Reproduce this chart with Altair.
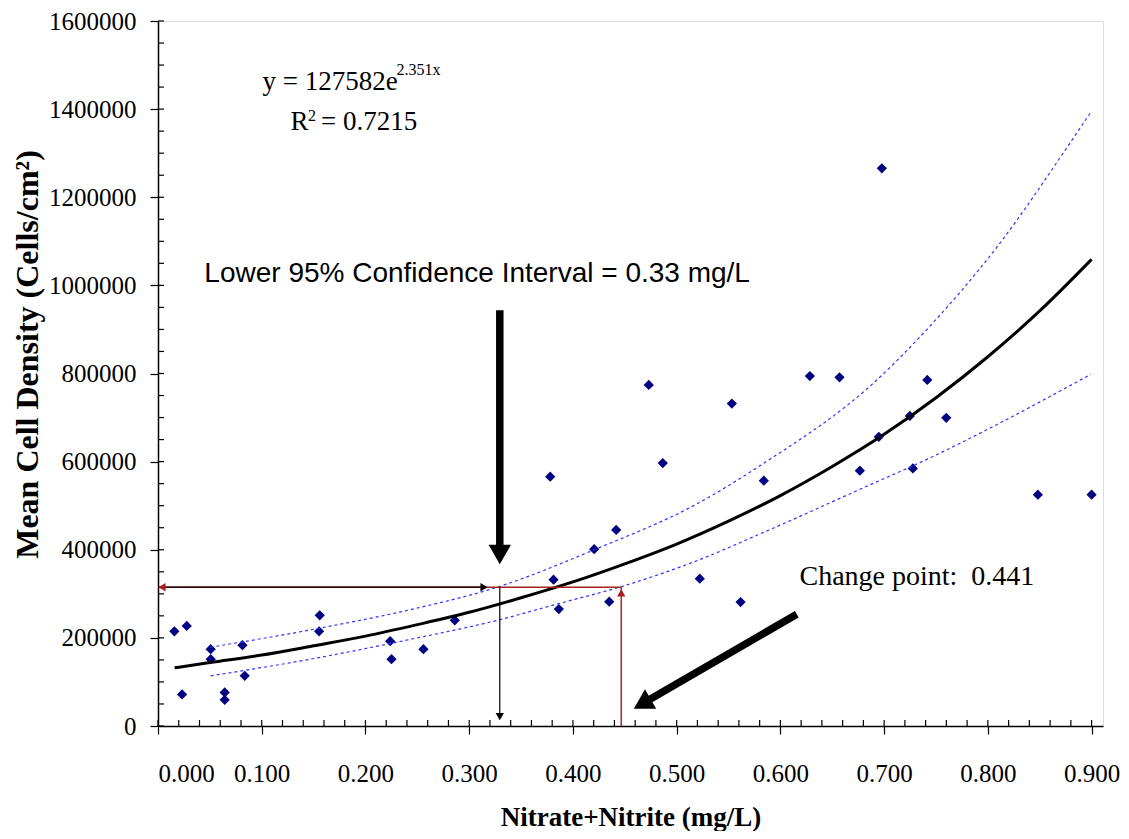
import altair as alt
import pandas as pd

# ---------------- data ----------------
nitrate = [0.0158, 0.0277, 0.0232, 0.0508, 0.0508, 0.0643, 0.0643, 0.0814, 0.0836,
           0.1559, 0.1553, 0.2238, 0.2251, 0.2559, 0.2861, 0.3781, 0.4731, 0.4866,
           0.4417, 0.4205, 0.3813, 0.3864, 0.4350, 0.6978, 0.6284, 0.6570, 0.7416,
           0.5532, 0.7248, 0.7599, 0.6949, 0.5840, 0.6766, 0.7277, 0.8482, 0.9000,
           0.5223, 0.5616]
density = [215000, 227000, 71700, 174300, 151600, 76300, 59500, 183300, 113800,
           251200, 215000, 192400, 151600, 174300, 239900, 565800, 774000, 596800,
           445100, 401300, 332000, 265500, 282200, 1265700, 794300, 791400, 785300,
           731700, 703800, 699300, 656300, 556700, 579400, 584600, 525000, 525000,
           334300, 281300]

fit_x = [0.016, 0.05, 0.10, 0.15, 0.20, 0.25, 0.30, 0.35, 0.40, 0.45, 0.50,
         0.55, 0.60, 0.65, 0.70, 0.75, 0.80, 0.85, 0.90]
fit_y = [132000, 144000, 161000, 182000, 204000, 230000, 258000, 291000, 327000,
         368000, 413000, 465000, 523000, 589000, 662000, 745000, 838000, 942000, 1059000]

upper_x = [0.0505, 0.1553, 0.2469, 0.3273, 0.4205, 0.5194, 0.5844, 0.6905,
           0.7451, 0.8094, 0.8800, 0.9000]
upper_y = [178800, 221800, 266000, 315200, 400000, 504000, 597000, 780000,
           910000, 1089000, 1326000, 1396000]
lower_x = [0.0508, 0.1505, 0.2469, 0.3273, 0.3851, 0.4461, 0.5201, 0.5844, 0.6808,
           0.7451, 0.8094, 0.8993]
lower_y = [113800, 153200, 198500, 239900, 277000, 316000, 375700, 440000, 541500,
           609400, 685000, 798200]

x_ticks = [0.0, 0.1, 0.2, 0.3, 0.4, 0.5, 0.6, 0.7, 0.8, 0.9]
y_ticks = [0, 200000, 400000, 600000, 800000, 1000000, 1200000, 1400000, 1600000]
x_minor = [round(i * 0.02, 2) for i in range(46)]
y_minor = [i * 50000 for i in range(33)]

# annotation anchors (data units)
ci_x = 0.3295          # lower 95% confidence interval
cp_x = 0.4466          # change point line
level_y = 315000       # horizontal reference level

SERIF = "Liberation Serif"
SANS = "Liberation Sans"

W, H = 945, 705

xs = alt.Scale(domain=[0, 0.911], nice=False, zero=False)
ys = alt.Scale(domain=[0, 1600000], nice=False, zero=False)


def X(f):
    return alt.X(f, type="quantitative", scale=xs, axis=None)


def Y(f):
    return alt.Y(f, type="quantitative", scale=ys, axis=None)


pts_df = pd.DataFrame({"x": nitrate, "y": density})

points = alt.Chart(pts_df).mark_point(
    shape="diamond", filled=True, size=105, color="#000080", opacity=1
).encode(
    x=alt.X("x:Q", scale=xs, axis=alt.Axis(
        orient="bottom", values=x_ticks, format=".3f", tickSize=8, tickColor="black",
        tickWidth=1.2, domainColor="black", domainWidth=1.5, grid=False,
        labelFont=SERIF, labelFontSize=25, labelColor="black", labelPadding=27,
        title="Nitrate+Nitrite (mg/L)", titleFont=SERIF, titleFontSize=27,
        titleFontWeight="bold", titleColor="black", titlePadding=18)),
    y=alt.Y("y:Q", scale=ys, axis=alt.Axis(
        orient="left", values=y_ticks, format="d", tickSize=8, tickColor="black",
        tickWidth=1.2, domainColor="black", domainWidth=1.5, grid=False,
        labelFont=SERIF, labelFontSize=25, labelColor="black", labelPadding=14,
        title="Mean Cell Density (Cells/cm²)", titleFont=SERIF, titleFontSize=32,
        titleFontWeight="bold", titleColor="black", titlePadding=4, titleY=333)),
)

xminor = alt.Chart(pd.DataFrame({"v": x_minor})).mark_tick(
    orient="vertical", size=6, thickness=1.2, color="black", opacity=1
).encode(x=X("v"), y=alt.value(H - 3))

yminor = alt.Chart(pd.DataFrame({"v": y_minor})).mark_tick(
    orient="horizontal", size=6, thickness=1.2, color="black", opacity=1
).encode(y=Y("v"), x=alt.value(3))

fit = alt.Chart(pd.DataFrame({"x": fit_x, "y": fit_y})).mark_line(
    color="black", strokeWidth=3, interpolate="monotone"
).encode(x=X("x"), y=Y("y"), order="x:Q")

band_df = pd.concat([
    pd.DataFrame({"x": upper_x, "y": upper_y, "b": "upper"}),
    pd.DataFrame({"x": lower_x, "y": lower_y, "b": "lower"}),
])
bands = alt.Chart(band_df).mark_line(
    color="#3333FF", strokeWidth=1.2, strokeDash=[3, 3], interpolate="monotone"
).encode(x=X("x"), y=Y("y"), detail="b:N", order="x:Q")

# reference lines (arrows)
seg_df = pd.DataFrame({
    "x":  [cp_x, 0.0,  0.0,    ci_x],
    "x2": [cp_x, cp_x, 0.3143, ci_x],
    "y":  [0, level_y, level_y, level_y],
    "y2": [level_y, level_y, level_y, 21500],
    "c":  ["#B03030", "#A52020", "black", "black"],
    "w":  [1.6, 1.6, 1.2, 1.2],
})
segs = alt.Chart(seg_df).mark_rule().encode(
    x=X("x"), x2="x2:Q", y=Y("y"), y2="y2:Q",
    color=alt.Color("c:N", scale=None), strokeWidth=alt.StrokeWidth("w:Q", scale=None))

heads_df = pd.DataFrame({
    "x": [0.0038, cp_x, 0.3143, ci_x],
    "y": [level_y, 302000, level_y, 21500],
    "s": ["triangle-left", "triangle-up", "triangle-right", "triangle-down"],
    "c": ["#A52020", "#A52020", "black", "black"],
})
heads = alt.Chart(heads_df).mark_point(filled=True, size=70, opacity=1).encode(
    x=X("x"), y=Y("y"), shape=alt.Shape("s:N", scale=None),
    color=alt.Color("c:N", scale=None))

# big arrows
big_df = pd.DataFrame({
    "x": [ci_x, 0.6158], "x2": [ci_x, 0.4714],
    "y": [943700, 253500], "y2": [400600, 56600],
})
big = alt.Chart(big_df).mark_rule(color="black", strokeWidth=7.5, strokeCap="butt").encode(
    x=X("x"), x2="x2:Q", y=Y("y"), y2="y2:Q")

bighead_df = pd.DataFrame({"x": [ci_x, 0.4668], "y": [389200, 50200], "a": [0, 239.9],
                           "s": ["triangle-down", "triangle-up"]})
bigheads = alt.Chart(bighead_df).mark_point(filled=True, size=500, color="black", opacity=1).encode(
    x=X("x"), y=Y("y"), angle=alt.Angle("a:Q", scale=None), shape=alt.Shape("s:N", scale=None))


def label(txt, x, y, font, size, baseline="alphabetic", weight="normal"):
    return alt.Chart(pd.DataFrame({"x": [x], "y": [y], "t": [txt]})).mark_text(
        align="left", baseline=baseline, font=font, fontSize=size, fontWeight=weight,
        color="black"
    ).encode(x=X("x"), y=Y("y"), text="t:N")


texts = [
    label("y = 127582e", 0.1007, 1443800, SERIF, 27),
    label("2.351x", 0.2299, 1478000, SERIF, 16),
    label("R", 0.1277, 1353300, SERIF, 27),
    label("2", 0.1445, 1373700, SERIF, 16),
    label("= 0.7215", 0.1572, 1353300, SERIF, 27),
    label("Lower 95% Confidence Interval = 0.33 mg/L", 0.0447, 1025200, SANS, 28, "middle"),
    label("Change point:\u00a0 0.441", 0.6184, 337200, SERIF, 28, "middle"),
]

chart = alt.layer(points, xminor, yminor, bands, fit, segs, heads, big, bigheads, *texts).resolve_axis(
    x="independent", y="independent"
).properties(
    width=W, height=H,
    autosize=alt.AutoSizeParams(type="none"),
    padding={"left": 150, "top": 13, "right": 18, "bottom": 105},
).configure_view(stroke="#888888", strokeWidth=2).configure(background="white")

chart.save("out.html", embed_options={"renderer": "svg", "actions": False})
